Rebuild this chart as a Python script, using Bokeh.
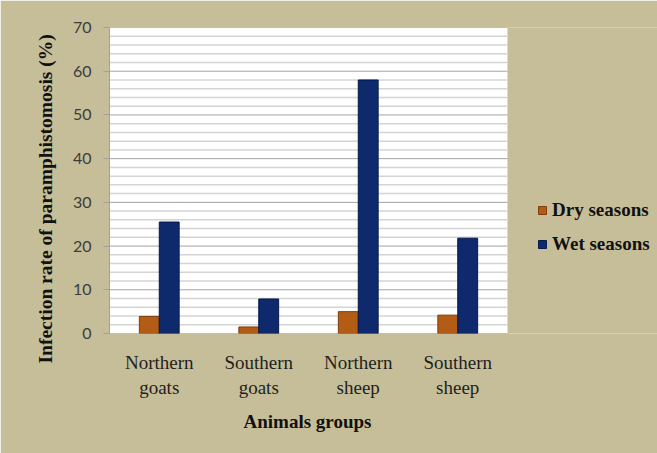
from bokeh.plotting import figure
from bokeh.models import (Range1d, FixedTicker, Legend, LegendItem, Title,
                          BoxAnnotation, ColumnDataSource)
from bokeh.embed import file_html
from bokeh.resources import INLINE

# ---- data ----
categories = ["Northern goats", "Southern goats", "Northern sheep", "Southern sheep"]
tick_labels = ["Northern\ngoats", "Southern\ngoats", "Northern\nsheep", "Southern\nsheep"]
dry_seasons = [3.9, 1.5, 5.0, 4.2]
wet_seasons = [25.5, 7.9, 58.0, 21.8]
series_names = ["Dry seasons", "Wet seasons"]
y_ticks = [0, 10, 20, 30, 40, 50, 60, 70]
y_title = "Infection rate of paramphistomosis (%)"
x_title = "Animals groups"

BG = "#C6BE99"
DRY = "#B35C16"
WET = "#0E2A6C"

W, H = 657, 453
LEFT, TOP, PLOT_W, PLOT_H = 109, 27, 398, 306
n = len(categories)
frame_w = W - LEFT
x_end = n * frame_w / PLOT_W          # frame extends under the legend area

centers = [i + 0.5 for i in range(n)]
source = ColumnDataSource(dict(xd=[c - 0.1 for c in centers],
                               xw=[c + 0.1 for c in centers],
                               dry=dry_seasons, wet=wet_seasons))

p = figure(width=W, height=H,
           x_range=Range1d(0, x_end),
           y_range=Range1d(y_ticks[0], y_ticks[-1]),
           output_backend="svg", toolbar_location=None,
           min_border_left=LEFT, min_border_right=0,
           min_border_top=TOP, min_border_bottom=H - TOP - PLOT_H)

p.background_fill_color = BG
p.border_fill_color = BG
p.outline_line_color = None
p.xgrid.visible = False
p.ygrid.visible = False

# white plot area
p.add_layout(BoxAnnotation(left=0, right=n, bottom=y_ticks[0], top=y_ticks[-1],
                           fill_color="white", fill_alpha=1,
                           line_color="#d8d8d8", line_width=1, level="image"))

# grid lines (limited to the plot area)
minor = [v for v in range(y_ticks[0], y_ticks[-1] + 1, 2) if v not in y_ticks]
p.segment(x0=0, x1=n, y0=minor, y1=minor, line_color="#d4d4d4", line_width=1.5)
p.segment(x0=0, x1=n, y0=y_ticks, y1=y_ticks, line_color="#a3a3a3", line_width=1)

r_dry = p.vbar(x="xd", top="dry", width=0.2, source=source,
               fill_color=DRY, line_color="#7d3c0a", line_width=1)
r_wet = p.vbar(x="xw", top="wet", width=0.2, source=source,
               fill_color=WET, line_color="#07184a", line_width=1)

# y axis
p.yaxis.ticker = FixedTicker(ticks=y_ticks)
p.yaxis.major_tick_out = 6
p.yaxis.major_tick_in = 0
p.yaxis.minor_tick_out = 0
p.yaxis.minor_tick_in = 0
p.yaxis.major_tick_line_color = "#a0a0a0"
p.yaxis.axis_line_color = "#a0a0a0"
p.yaxis.major_label_standoff = 12
p.yaxis.major_label_text_font = "Lato"
p.yaxis.major_label_text_font_size = "16px"
p.yaxis.major_label_text_color = "#3c3c3c"

# x axis (its line is drawn by the 0 grid segment, limited to the plot area)
p.xaxis.ticker = FixedTicker(ticks=centers)
p.xaxis.major_label_overrides = {c: t for c, t in zip(centers, tick_labels)}
p.xaxis.axis_line_color = None
p.xaxis.major_tick_out = 0
p.xaxis.major_tick_in = 0
p.xaxis.minor_tick_out = 0
p.xaxis.minor_tick_in = 0
p.xaxis.major_label_standoff = 18
p.xaxis.major_label_text_font = "Liberation Serif"
p.xaxis.major_label_text_font_size = "19px"
p.xaxis.major_label_text_color = "#1e1e1e"

# x title (centred under the plot area)
p.add_layout(Title(text=x_title, align="left", offset=134, vertical_align="top",
                   standoff=20, text_font="Liberation Serif", text_font_style="bold",
                   text_font_size="19px", text_color="#111111"), "below")

# y title (rotated), shifted down like the reference
p.add_layout(Title(text=y_title, align="left", offset=-30, vertical_align="top",
                   standoff=23, text_font="Liberation Serif", text_font_style="bold",
                   text_font_size="19.5px", text_color="#111111"), "left")

legend = Legend(items=[LegendItem(label=series_names[0], renderers=[r_dry]),
                       LegendItem(label=series_names[1], renderers=[r_wet])],
                location=(428, 78), padding=0, margin=0, spacing=12,
                label_height=20, glyph_width=10, glyph_height=10,
                label_standoff=5, background_fill_alpha=0, border_line_alpha=0,
                label_text_font="Liberation Serif", label_text_font_style="bold",
                label_text_font_size="19px", label_text_color="#111111")
p.add_layout(legend)

open("out.html", "w").write(file_html(p, INLINE))
